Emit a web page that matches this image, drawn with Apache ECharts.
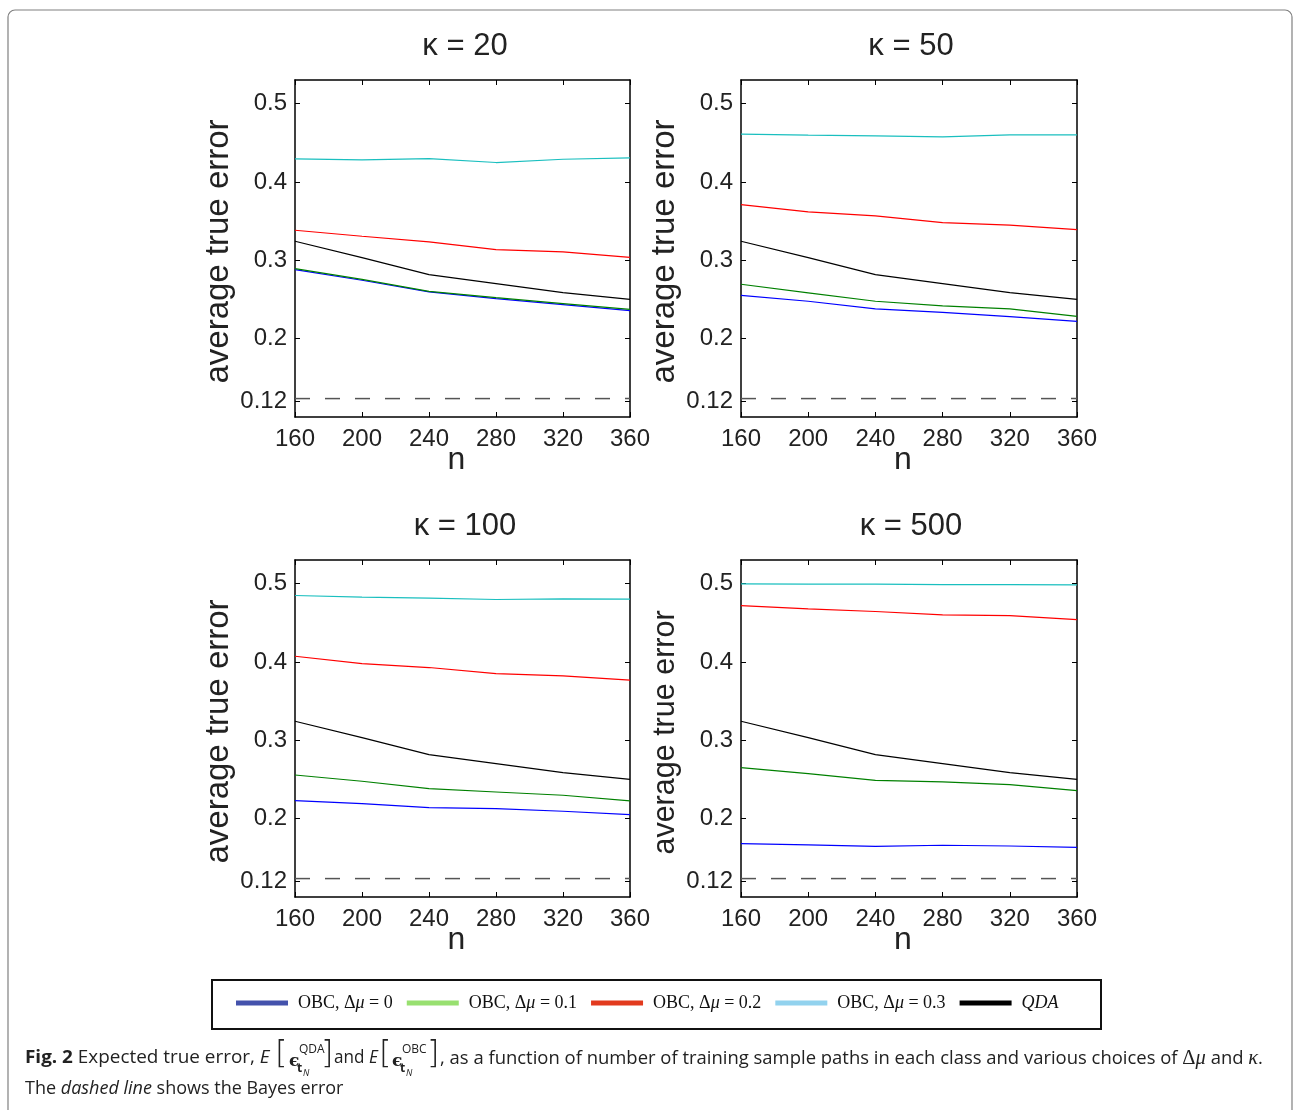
<!DOCTYPE html>
<html>
<head>
<meta charset="utf-8">
<script src="https://cdn.jsdelivr.net/npm/echarts@6/dist/echarts.min.js"></script>
<style>
html,body{margin:0;padding:0;background:#fff;}
#chart{width:1294px;height:1110px;}
</style>
</head>
<body>
<div id="chart"></div>
<script>
// ---- data ----
const nValues = [160, 200, 240, 280, 320, 360];
const yTicks = [0.12, 0.2, 0.3, 0.4, 0.5];
const panelTitles = ['κ = 20', 'κ = 50', 'κ = 100', 'κ = 500'];
const seriesNames = ['OBC, Δμ = 0', 'OBC, Δμ = 0.1', 'OBC, Δμ = 0.2', 'OBC, Δμ = 0.3', 'QDA'];
const bayesError = 0.1235;

const qda = [0.3243, 0.3034, 0.2817, 0.2702, 0.2587, 0.2502];

const k20_d0 = [0.2881, 0.2745, 0.2596, 0.2511, 0.2434, 0.2357];
const k20_d1 = [0.2894, 0.2757, 0.2604, 0.2523, 0.2447, 0.2374];
const k20_d2 = [0.3383, 0.3306, 0.3234, 0.3136, 0.3106, 0.3038];
const k20_d3 = [0.4294, 0.4281, 0.4298, 0.4247, 0.4289, 0.4306];

const k50_d0 = [0.2553, 0.2477, 0.2379, 0.2336, 0.2281, 0.2221];
const k50_d1 = [0.2694, 0.2583, 0.2477, 0.2417, 0.2379, 0.2285];
const k50_d2 = [0.3711, 0.3617, 0.3566, 0.3481, 0.3447, 0.3391];
const k50_d3 = [0.4609, 0.4596, 0.4587, 0.4574, 0.4600, 0.4600];

const k100_d0 = [0.2230, 0.2191, 0.2140, 0.2128, 0.2094, 0.2051];
const k100_d1 = [0.2557, 0.2477, 0.2383, 0.2340, 0.2298, 0.2226];
const k100_d2 = [0.4072, 0.3979, 0.3928, 0.3851, 0.3821, 0.3766];
const k100_d3 = [0.4847, 0.4826, 0.4813, 0.4796, 0.4804, 0.4800];

const k500_d0 = [0.1681, 0.1664, 0.1647, 0.1660, 0.1651, 0.1634];
const k500_d1 = [0.2651, 0.2574, 0.2489, 0.2468, 0.2434, 0.2357];
const k500_d2 = [0.4719, 0.4677, 0.4643, 0.4600, 0.4591, 0.4540];
const k500_d3 = [0.4996, 0.4991, 0.4991, 0.4987, 0.4987, 0.4983];

const panels = [
  [k20_d0, k20_d1, k20_d2, k20_d3, qda],
  [k50_d0, k50_d1, k50_d2, k50_d3, qda],
  [k100_d0, k100_d1, k100_d2, k100_d3, qda],
  [k500_d0, k500_d1, k500_d2, k500_d3, qda]
];

// ---- styles ----
const lineColors = ['#0000ff', '#008000', '#ff0000', '#1abfbf', '#000000'];
const legendColors = ['#4452ac', '#98e070', '#e23a1e', '#92d2ee', '#000000'];
const grids = [
  {left: 295, top: 80, width: 335, height: 337},
  {left: 741, top: 80, width: 336, height: 337},
  {left: 295, top: 560, width: 335, height: 337},
  {left: 741, top: 560, width: 336, height: 337}
];
const titlePos = [[460, 26], [906, 26], [460, 506], [906, 506]];
const yNameSize = [33, 33, 33, 30.5];
const yNamePad = [[0, 6, 0, 0], [0, 6, 0, 0], [0, 6, 0, 0], [0, 8, 0, 0]];
const sans = 'Liberation Sans, Arial, sans-serif';

const xAxes = [], yAxes = [], series = [], titles = [];
grids.forEach((g, i) => {
  const axLine = {show: true, lineStyle: {color: '#000', width: 1.5}};
  xAxes.push({
    gridIndex: i, type: 'value', min: 160, max: 360, interval: 40, position: 'bottom',
    axisLine: axLine, axisTick: {show: true, inside: true, length: 5, lineStyle: {color: '#000'}},
    axisLabel: {color: '#222', fontSize: 24, fontFamily: sans, margin: 10, showMinLabel: true, showMaxLabel: true},
    splitLine: {show: false},
    name: 'n', nameLocation: 'middle', nameGap: 27, nameMoveOverlap: false,
    nameTextStyle: {color: '#222', fontSize: 32, fontFamily: sans, padding: [0, 12, 0, 0]}
  });
  xAxes.push({
    gridIndex: i, type: 'value', min: 160, max: 360, interval: 40, position: 'top',
    axisLine: axLine, axisTick: {show: true, inside: true, length: 5, lineStyle: {color: '#000'}},
    axisLabel: {show: false}, splitLine: {show: false}
  });
  yAxes.push({
    gridIndex: i, type: 'value', min: 0.1, max: 0.53, position: 'left',
    axisLine: axLine,
    axisTick: {show: true, inside: true, length: 5, customValues: yTicks, lineStyle: {color: '#000'}},
    axisLabel: {color: '#222', fontSize: 24, fontFamily: sans, margin: 8, customValues: yTicks,
      formatter: v => String(+v.toFixed(2))},
    splitLine: {show: false},
    name: 'average true error', nameLocation: 'middle', nameGap: 60, nameRotate: 90,
    nameTextStyle: {color: '#222', fontSize: yNameSize[i], fontFamily: sans, padding: yNamePad[i]}
  });
  yAxes.push({
    gridIndex: i, type: 'value', min: 0.1, max: 0.53, position: 'right',
    axisLine: axLine,
    axisTick: {show: true, inside: true, length: 5, customValues: yTicks, lineStyle: {color: '#000'}},
    axisLabel: {show: false}, splitLine: {show: false}
  });
  titles.push({
    text: panelTitles[i], left: titlePos[i][0], top: titlePos[i][1], textAlign: 'center',
    textStyle: {color: '#222', fontSize: 31, fontWeight: 'normal', fontFamily: sans}
  });
  panels[i].forEach((vals, s) => {
    series.push({
      name: seriesNames[s], type: 'line', xAxisIndex: 2 * i, yAxisIndex: 2 * i,
      data: nValues.map((n, k) => [n, vals[k]]),
      symbol: 'none', showSymbol: false, silent: true,
      lineStyle: {color: lineColors[s], width: 1.2}, itemStyle: {color: lineColors[s]},
      z: 3
    });
  });
  series.push({
    name: 'Bayes', type: 'line', xAxisIndex: 2 * i, yAxisIndex: 2 * i,
    data: [[nValues[0], bayesError], [nValues[nValues.length - 1], bayesError]],
    symbol: 'none', silent: true,
    lineStyle: {color: '#555', width: 1.5, type: [15, 15]}, z: 2
  });
});

const capFont = 'Open Sans';
const caption = [
  {type: 'text', x: 25, y: 1049, scaleX: 1.05, style: {
    text: '{b|Fig. 2} Expected true error, {i|E}', fontFamily: capFont, fontSize: 18, fill: '#222',
    rich: {b: {fontWeight: 'bold', fontFamily: capFont, fontSize: 18, fill: '#222'},
           i: {fontStyle: 'italic', fontFamily: capFont, fontSize: 18, fill: '#222'}}}},
  {type: 'text', x: 275, y: 1039, style: {text: '[', fontFamily: 'DejaVu Sans', fontSize: 32, fontWeight: 200, fill: '#222'}},
  {type: 'text', x: 289, y: 1053, style: {text: 'ϵ', fontFamily: 'DejaVu Serif', fontSize: 17, fontWeight: 'bold', fill: '#222'}},
  {type: 'text', x: 299, y: 1044, style: {text: 'QDA', fontFamily: capFont, fontSize: 12, fill: '#222'}},
  {type: 'text', x: 297, y: 1063, style: {text: 't', fontFamily: capFont, fontSize: 12, fontWeight: 'bold', fill: '#222'}},
  {type: 'text', x: 303, y: 1069, style: {text: 'N', fontFamily: capFont, fontSize: 9, fontStyle: 'italic', fill: '#222'}},
  {type: 'text', x: 321, y: 1039, style: {text: ']', fontFamily: 'DejaVu Sans', fontSize: 32, fontWeight: 200, fill: '#222'}},
  {type: 'text', x: 334, y: 1049, scaleX: 0.95, style: {
    text: 'and {i|E}', fontFamily: capFont, fontSize: 18, fill: '#222',
    rich: {i: {fontStyle: 'italic', fontFamily: capFont, fontSize: 18, fill: '#222'}}}},
  {type: 'text', x: 379, y: 1039, style: {text: '[', fontFamily: 'DejaVu Sans', fontSize: 32, fontWeight: 200, fill: '#222'}},
  {type: 'text', x: 392, y: 1053, style: {text: 'ϵ', fontFamily: 'DejaVu Serif', fontSize: 17, fontWeight: 'bold', fill: '#222'}},
  {type: 'text', x: 402, y: 1044, style: {text: 'OBC', fontFamily: capFont, fontSize: 12, fill: '#222'}},
  {type: 'text', x: 400, y: 1063, style: {text: 't', fontFamily: capFont, fontSize: 12, fontWeight: 'bold', fill: '#222'}},
  {type: 'text', x: 406, y: 1069, style: {text: 'N', fontFamily: capFont, fontSize: 9, fontStyle: 'italic', fill: '#222'}},
  {type: 'text', x: 427, y: 1039, style: {text: ']', fontFamily: 'DejaVu Sans', fontSize: 32, fontWeight: 200, fill: '#222'}},
  {type: 'text', x: 440, y: 1049, scaleX: 1.025, style: {
    text: ', as a function of number of training sample paths in each class and various choices of {s|Δ}{m|μ} and {m|κ}.',
    fontFamily: capFont, fontSize: 18, fill: '#222',
    rich: {s: {fontFamily: 'Liberation Serif', fontSize: 20, fill: '#222'},
           m: {fontFamily: 'Liberation Serif', fontStyle: 'italic', fontSize: 20, fill: '#222'}}}},
  {type: 'text', x: 25, y: 1080, scaleX: 1.0, style: {
    text: 'The {i|dashed line} shows the Bayes error', fontFamily: capFont, fontSize: 18, fill: '#222',
    rich: {i: {fontStyle: 'italic', fontFamily: capFont, fontSize: 18, fill: '#222'}}}}
];

const option = {
  animation: false,
  backgroundColor: '#fff',
  title: titles,
  grid: grids.map(g => Object.assign({containLabel: false}, g)),
  xAxis: xAxes,
  yAxis: yAxes,
  legend: {
    data: seriesNames.map((nm, s) => ({name: nm, itemStyle: {color: legendColors[s]}})),
    left: 236, top: 994, padding: 0, icon: 'rect', itemWidth: 52, itemHeight: 5, itemGap: 14,
    selectedMode: false,
    textStyle: {fontFamily: 'Liberation Serif', fontSize: 18, color: '#111', padding: [0, 0, 0, 5],
      rich: {i: {fontFamily: 'Liberation Serif', fontStyle: 'italic', fontSize: 18, color: '#111'}}},
    formatter: nm => nm === 'QDA' ? '{i|QDA}' : nm.replace('μ', '{i|μ}')
  },
  graphic: [
    {type: 'rect', shape: {x: 8, y: 10, width: 1284, height: 1130, r: 7},
     style: {fill: 'none', stroke: '#808080', lineWidth: 1.2}, silent: true},
    {type: 'rect', shape: {x: 212, y: 980, width: 889, height: 49},
     style: {fill: 'none', stroke: '#111', lineWidth: 2}, silent: true}
  ].concat(caption),
  series: series
};

const chart = echarts.init(document.getElementById('chart'), null, {renderer: 'canvas'});
chart.setOption(option);
</script>
</body>
</html>
